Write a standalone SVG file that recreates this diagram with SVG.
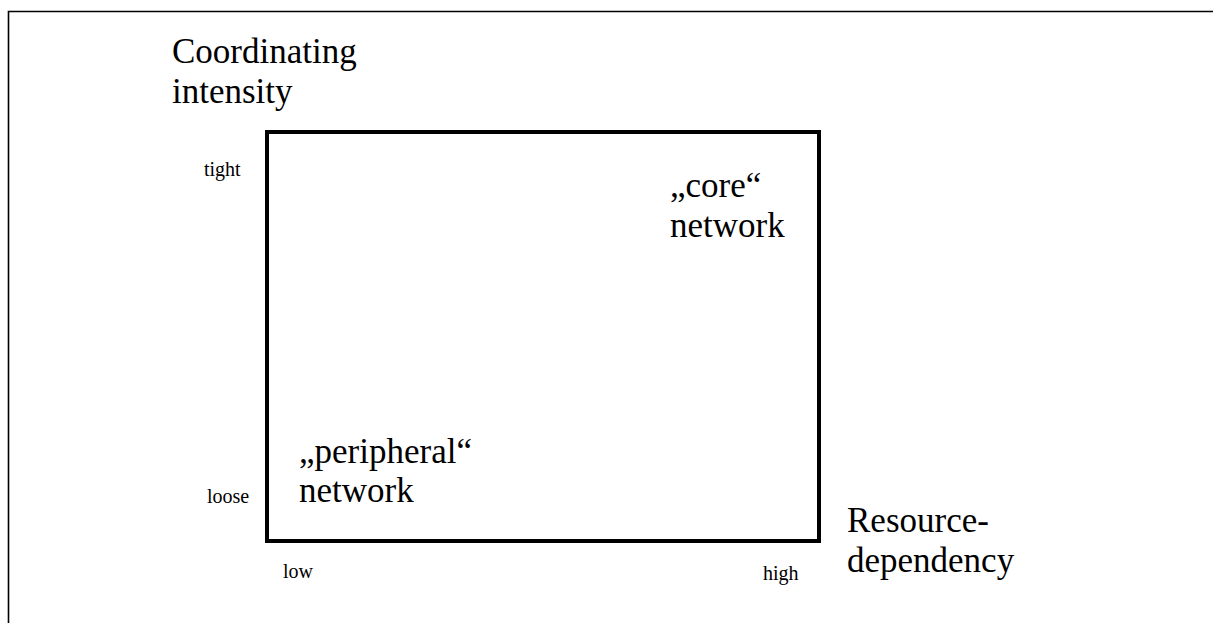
<svg xmlns="http://www.w3.org/2000/svg" width="1213" height="623" viewBox="0 0 1213 623">
<style>
text { font-family: "Liberation Serif", "Times New Roman", serif; fill: #000; }
.big { font-size: 35px; }
.small { font-size: 20px; }
</style>
<rect x="0" y="0" width="1213" height="623" fill="#fff"/>
<g id="frame">
<polyline points="1213,11.5 8.5,11.5 8.5,623" fill="none" stroke="#000" stroke-width="1.6"/>
</g>
<g id="matrix">
<rect x="267" y="132" width="552" height="409" fill="none" stroke="#000" stroke-width="4"/>
</g>
<g id="y-axis-label">
<text class="big" x="172" y="63">Coordinating</text>
<text class="big" x="172" y="103">intensity</text>
</g>
<g id="x-axis-label">
<text class="big" x="847" y="532">Resource-</text>
<text class="big" x="847" y="572">dependency</text>
</g>
<g id="ticks">
<text class="small" x="204" y="176">tight</text>
<text class="small" x="207" y="503">loose</text>
<text class="small" x="283" y="578">low</text>
<text class="small" x="763" y="580">high</text>
</g>
<g id="core">
<text class="big" x="670" y="197">„core“</text>
<text class="big" x="670" y="237">network</text>
</g>
<g id="peripheral">
<text class="big" x="299" y="463">„peripheral“</text>
<text class="big" x="299" y="502">network</text>
</g>
</svg>
